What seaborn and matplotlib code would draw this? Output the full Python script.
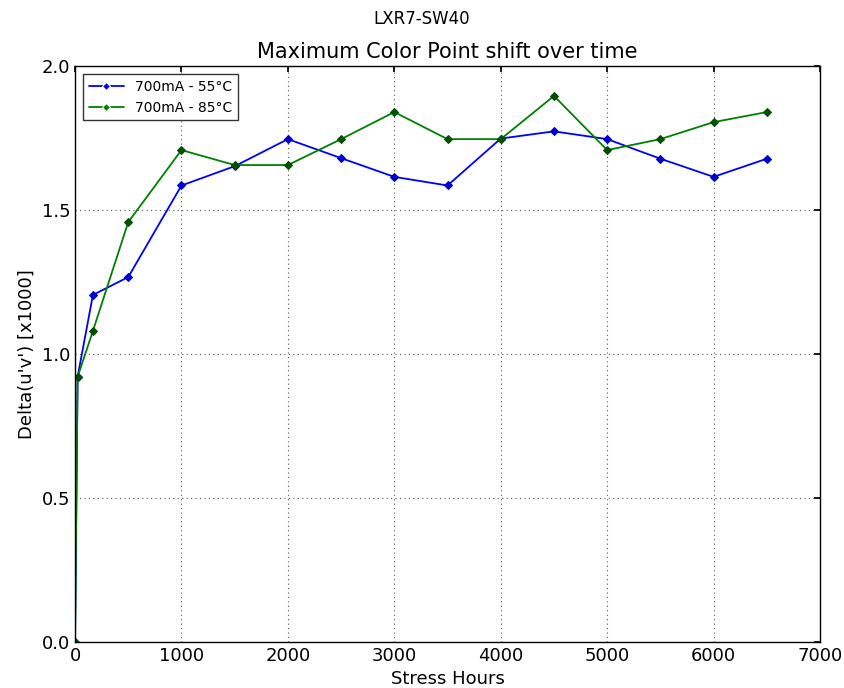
import matplotlib
matplotlib.use("Agg")
import matplotlib.pyplot as plt
import seaborn as sns
import pandas as pd

hours = [0, 24, 168, 500, 1000, 1500, 2000, 2500, 3000, 3500, 4000, 4500, 5000, 5500, 6000, 6500]
shift_55 = [0.0, 0.92, 1.205, 1.267, 1.585, 1.652, 1.746, 1.68, 1.615, 1.585, 1.748, 1.773, 1.746, 1.678, 1.615, 1.678]
shift_85 = [0.0, 0.92, 1.08, 1.458, 1.708, 1.656, 1.656, 1.746, 1.84, 1.746, 1.746, 1.896, 1.708, 1.746, 1.805, 1.84]
series_labels = ["700mA - 55°C", "700mA - 85°C"]

df = pd.DataFrame({
    "hours": hours * 2,
    "shift": shift_55 + shift_85,
    "series": [series_labels[0]] * len(hours) + [series_labels[1]] * len(hours),
})

sns.set_theme(style="white")
plt.rcParams["font.family"] = ["DejaVu Sans"]
plt.rcParams["text.color"] = "black"
plt.rcParams["axes.labelcolor"] = "black"

fig = plt.figure(figsize=(8.44, 6.88), dpi=100)
ax = fig.add_axes([0.0889, 0.0669, 0.8827, 0.8372])

sns.lineplot(data=df, x="hours", y="shift", hue="series",
             palette=["#0000ff", "#008000"], marker="D", markersize=4,
             linewidth=1.3, ax=ax, legend=True)
for line, c in zip(ax.lines, ["#0000cc", "#005000"]):
    line.set_markerfacecolor(c)
    line.set_markeredgecolor(c)

ax.set_xlim(0, 7000)
ax.set_ylim(0, 2.0)
ax.set_xticks(range(0, 7001, 1000))
ax.set_yticks([0.0, 0.5, 1.0, 1.5, 2.0])
ax.set_yticklabels(["0.0", "0.5", "1.0", "1.5", "2.0"])
ax.grid(True, color="#555555", linestyle=(0, (1, 3)), linewidth=0.8)
for s in ax.spines.values():
    s.set_color("black")
    s.set_linewidth(1.0)
ax.tick_params(direction="in", top=True, right=True, length=4, labelsize=13, colors="black")
ax.set_xlabel("Stress Hours", fontsize=13, color="black")
ax.set_ylabel("Delta(u'v') [x1000]", fontsize=13, color="black")
ax.set_title("Maximum Color Point shift over time", fontsize=15, pad=6, color="black")
fig.suptitle("LXR7-SW40", fontsize=12, y=0.985, color="black")

leg = ax.legend(loc="upper left", fontsize=10, frameon=True, fancybox=False,
                edgecolor="black", borderaxespad=0.6, handlelength=2.5)
leg.get_frame().set_linewidth(1.0)
for t in leg.get_texts():
    t.set_color("black")

fig.savefig("out.png", dpi=100, facecolor="white")
